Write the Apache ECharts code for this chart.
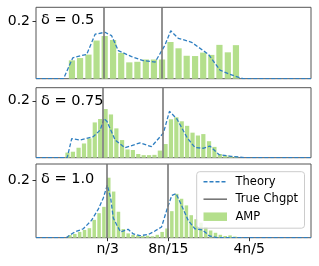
<!DOCTYPE html>
<html>
<head>
<meta charset="utf-8">
<script src="https://cdn.jsdelivr.net/npm/echarts@6/dist/echarts.min.js"></script>
<style>html,body{margin:0;padding:0;background:#fff}#c{width:319px;height:266px}</style>
</head>
<body>
<div id="c"></div>
<script>
// ---- data (x in units of n) ----
const xTickValues = [1/3, 8/15, 4/5];
const xTickLabels = ['n/3', '8n/15', '4n/5'];
const yTickValues = [0.2];
const changepoints = [1/3, 8/15];
const deltaLabels = ['δ = 0.5', 'δ = 0.75', 'δ = 1.0'];
const xMin = [0.095, 0.107, 0.097];
const xMax = [1.044, 1.024, 1.004];
const yMax = [0.249, 0.246, 0.2555];

const amp05X = [0.219,0.247,0.276,0.304,0.332,0.361,0.389,0.417,0.445,0.474,0.502,0.530,0.559,0.587,0.615,0.644,0.672,0.700,0.728,0.757,0.785];
const amp05Y = [0.064,0.072,0.084,0.133,0.149,0.135,0.090,0.057,0.059,0.067,0.067,0.067,0.128,0.106,0.080,0.079,0.091,0.083,0.118,0.092,0.117];
const theory05X = [0.095,0.190,0.222,0.270,0.299,0.333,0.356,0.379,0.425,0.465,0.506,0.540,0.560,0.586,0.632,0.690,0.730,0.764,0.809,1.044];
const theory05Y = [0,0,0.073,0.085,0.155,0.162,0.150,0.098,0.077,0.063,0.058,0.117,0.167,0.141,0.127,0.085,0.030,0.015,0,0];

const amp075X = [0.212,0.230,0.249,0.267,0.285,0.303,0.321,0.339,0.357,0.375,0.394,0.412,0.430,0.448,0.466,0.484,0.502,0.520,0.539,0.557,0.575,0.593,0.611,0.629,0.647,0.665,0.684,0.702,0.720,0.738,0.756,0.774];
const amp075Y = [0.018,0.021,0.035,0.050,0.068,0.124,0.136,0.171,0.152,0.103,0.062,0.029,0.027,0.013,0.009,0.009,0.010,0.025,0.048,0.135,0.142,0.128,0.112,0.088,0.078,0.083,0.058,0.038,0.013,0.009,0.006,0.004];
const theory075X = [0.107,0.211,0.226,0.254,0.298,0.321,0.334,0.344,0.371,0.404,0.454,0.492,0.532,0.552,0.577,0.611,0.637,0.664,0.687,0.717,0.757,0.804,1.024];
const theory075Y = [0,0,0.067,0.062,0.074,0.097,0.138,0.127,0.062,0.035,0.052,0.039,0.087,0.163,0.136,0.070,0.036,0.033,0.041,0.011,0.005,0,0];

const amp10X = [0.209,0.225,0.241,0.257,0.273,0.289,0.305,0.321,0.337,0.353,0.369,0.385,0.401,0.417,0.433,0.449,0.465,0.481,0.497,0.513,0.529,0.545,0.561,0.577,0.593,0.609,0.625,0.641,0.657,0.673,0.689,0.705,0.721,0.737,0.753,0.769];
const amp10Y = [0.009,0.013,0.020,0.027,0.033,0.062,0.085,0.107,0.208,0.160,0.090,0.030,0.015,0.010,0.008,0.006,0.007,0.005,0.010,0.020,0.032,0.092,0.152,0.135,0.112,0.078,0.064,0.052,0.037,0.025,0.017,0.010,0.006,0.008,0.004,0.002];
const theory10X = [0.097,0.196,0.225,0.253,0.280,0.302,0.319,0.332,0.343,0.352,0.363,0.376,0.401,0.418,0.440,0.467,0.489,0.511,0.528,0.545,0.559,0.578,0.599,0.621,0.646,0.669,0.694,1.004];
const theory10Y = [0,0,0.020,0.031,0.060,0.098,0.138,0.182,0.140,0.068,0.045,0.020,0.029,0.013,0.007,0.011,0.023,0.037,0.095,0.147,0.153,0.110,0.060,0.031,0.027,0.006,0,0];

// ---- layout / style ----
const FONT = 'DejaVu Sans';
const gridTop = [7.3, 87.7, 164];
const gridHeight = [71.4, 70, 73.7];
const barWidths = [6.2, 4.2, 3.5];
const GREEN = '#b4df8c';
const BLUE = '#2f7fc1';
const GRAY = '#777777';

const panels = [
  {ampX: amp05X, ampY: amp05Y, thX: theory05X, thY: theory05Y},
  {ampX: amp075X, ampY: amp075Y, thX: theory075X, thY: theory075Y},
  {ampX: amp10X, ampY: amp10Y, thX: theory10X, thY: theory10Y}
];

const grids = [], xAxes = [], yAxes = [], series = [], graphics = [];
panels.forEach((p, i) => {
  grids.push({left: 36, width: 275, top: gridTop[i], height: gridHeight[i], show: true,
    borderColor: '#555', borderWidth: 1, backgroundColor: 'transparent'});
  const last = i === panels.length - 1;
  xAxes.push({type: 'value', gridIndex: i, min: xMin[i], max: xMax[i],
    axisLine: {show: false}, splitLine: {show: false},
    axisTick: {show: last, customValues: xTickValues, length: 3.5, lineStyle: {color: '#333'}},
    axisLabel: {show: last, customValues: xTickValues, margin: 5, fontSize: 14, fontFamily: FONT, color: '#000',
      formatter: v => { const k = xTickValues.findIndex(t => Math.abs(t - v) < 1e-6); return k >= 0 ? xTickLabels[k] : ''; }}
  });
  yAxes.push({type: 'value', gridIndex: i, min: 0, max: yMax[i],
    axisLine: {show: false}, splitLine: {show: false},
    axisTick: {show: true, customValues: yTickValues, length: 3.5, lineStyle: {color: '#333'}},
    axisLabel: {customValues: yTickValues, margin: 6, fontSize: 14, fontFamily: FONT, color: '#000',
      formatter: v => String(Math.round(v * 10) / 10)}
  });
  series.push({type: 'bar', name: 'AMP', xAxisIndex: i, yAxisIndex: i, silent: true,
    data: p.ampX.map((x, j) => [x, p.ampY[j]]), barWidth: barWidths[i],
    itemStyle: {color: GREEN}, z: 2});
  series.push({type: 'line', name: 'Theory', xAxisIndex: i, yAxisIndex: i, silent: true,
    data: p.thX.map((x, j) => [x, p.thY[j]]), symbol: 'none',
    lineStyle: {color: BLUE, width: 1.3, type: [4, 2]}, itemStyle: {color: BLUE}, z: 4});
  series.push({type: 'line', name: 'True Chgpt', xAxisIndex: i, yAxisIndex: i, silent: true,
    data: [], symbol: 'none', lineStyle: {color: GRAY, width: 1.6}, itemStyle: {color: GRAY}, z: 3,
    markLine: {silent: true, symbol: 'none', label: {show: false}, animation: false,
      lineStyle: {color: GRAY, width: 1.6, type: 'solid'},
      data: changepoints.map(v => ({xAxis: v}))}});
  graphics.push({type: 'text', x: 41, y: [20.7, 101, 179.3][i],
    style: {text: deltaLabels[i], font: '14.5px "DejaVu Sans"', fill: '#000', verticalAlign: 'middle'}, z: 10});
});

const hiddenSymbol = {color: 'rgba(0,0,0,0)', borderColor: 'rgba(0,0,0,0)', borderWidth: 0, opacity: 0};
const chart = echarts.init(document.getElementById('c'), null, {renderer: 'canvas'});
chart.setOption({
  animation: false,
  grid: grids, xAxis: xAxes, yAxis: yAxes, series: series,
  graphic: graphics,
  legend: {orient: 'vertical', left: 196.7, top: 171.7, selectedMode: false,
    data: [
      {name: 'Theory', itemStyle: hiddenSymbol, lineStyle: {color: BLUE, width: 1.5, type: [4, 2]}},
      {name: 'True Chgpt', itemStyle: hiddenSymbol, lineStyle: {color: GRAY, width: 1.6, type: 'solid'}},
      {name: 'AMP', icon: 'rect', itemStyle: {color: GREEN}}
    ],
    itemWidth: 23.5, itemHeight: 8.5, itemGap: 5.5, padding: [4, 6.5, 5.5, 6],
    backgroundColor: 'rgba(255,255,255,0.8)', borderColor: '#cccccc', borderWidth: 1, borderRadius: 3,
    textStyle: {fontSize: 11.5, fontFamily: FONT, color: '#000', padding: [0, 0, 0, 3.5], lineHeight: 12}
  }
});
</script>
</body>
</html>
